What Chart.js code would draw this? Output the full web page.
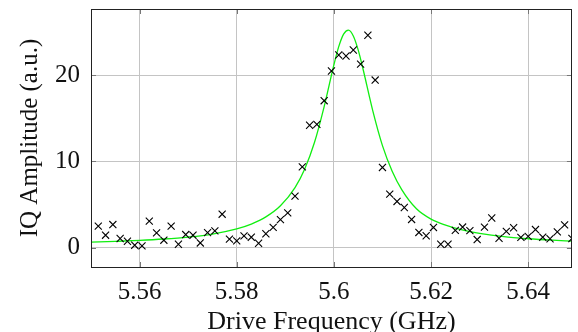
<!DOCTYPE html>
<html>
<head>
<meta charset="utf-8">
<script src="https://cdn.jsdelivr.net/npm/chart.js@4/dist/chart.umd.min.js"></script>
<style>
  html, body { margin: 0; padding: 0; background: #fff; }
  #wrap { width: 578px; height: 332px; }
</style>
</head>
<body>
<div id="wrap"><canvas id="resonance"></canvas></div>
<script>
// measured points (GHz, a.u.)
const freqs = [
    5.5515, 5.553, 5.5545, 5.556, 5.5575, 5.559, 5.5605, 5.562, 5.5635, 5.565,
    5.5665, 5.568, 5.5695, 5.571, 5.5725, 5.574, 5.5755, 5.577, 5.5785, 5.58,
    5.5815, 5.583, 5.5845, 5.586, 5.5875, 5.589, 5.5905, 5.592, 5.5935, 5.595,
    5.5965, 5.598, 5.5995, 5.601, 5.6025, 5.604, 5.6055, 5.607, 5.6085, 5.61,
    5.6115, 5.613, 5.6145, 5.616, 5.6175, 5.619, 5.6205, 5.622, 5.6235, 5.625,
    5.6265, 5.628, 5.6295, 5.631, 5.6325, 5.634, 5.6355, 5.637, 5.6385, 5.64,
    5.6415, 5.643, 5.6445, 5.646, 5.6475, 5.649
];
const amps = [
    2.48, 1.43, 2.67, 1.05, 0.73, 0.27, 0.19, 3.06, 1.70, 0.85,
    2.48, 0.38, 1.51, 1.43, 0.53, 1.74, 1.93, 3.87, 0.97, 0.77,
    1.35, 1.2, 0.5, 1.6, 2.35, 3.25, 4.03, 5.97, 9.37, 14.2,
    14.3, 17.05, 20.5, 22.36, 22.24, 22.94, 21.3, 24.65, 19.45, 9.3,
    6.2, 5.35, 4.65, 3.26, 1.75, 1.37, 2.33, 0.38, 0.38, 2.0,
    2.38, 1.97, 0.93, 2.37, 3.43, 1.08, 1.87, 2.3, 1.18, 1.3,
    2.09, 1.2, 1.02, 1.82, 2.63, 1.05
];

// fitted curve
const fitFreqs = [
    5.55, 5.555, 5.56, 5.565, 5.57, 5.575, 5.58, 5.583, 5.586, 5.589,
    5.592, 5.594, 5.596, 5.598, 5.6, 5.601, 5.602, 5.603, 5.604, 5.605,
    5.606, 5.608, 5.61, 5.612, 5.614, 5.617, 5.62, 5.623, 5.626, 5.63,
    5.635, 5.64, 5.645, 5.649
];
const fitAmps = [
    0.63, 0.72, 0.83, 0.99, 1.22, 1.57, 2.17, 2.73, 3.56, 4.85,
    6.96, 9.12, 12.19, 16.37, 21.21, 23.33, 24.79, 25.25, 24.57, 22.95,
    20.73, 15.9, 11.84, 8.87, 6.7, 4.5, 3.3, 2.6, 2.1, 1.65,
    1.26, 1.02, 0.85, 0.75
];

const xTicks = [5.56, 5.58, 5.6, 5.62, 5.64];
const yTicks = [0, 10, 20];

const serifFamily = '"Liberation Serif", "DejaVu Serif", serif';
const tickFont = { family: serifFamily, size: 25 };

// pgfplots style frame with inward tick marks
const framePlugin = {
    id: 'frame',
    afterDraw(chart) {
        const { ctx, chartArea: a, scales } = chart;
        ctx.save();
        ctx.strokeStyle = '#777';
        ctx.lineWidth = 1;
        ctx.beginPath();
        xTicks.forEach(v => {
            const px = Math.round(scales.x.getPixelForValue(v)) + 0.5;
            ctx.moveTo(px, a.top); ctx.lineTo(px, a.top + 5);
            ctx.moveTo(px, a.bottom); ctx.lineTo(px, a.bottom - 5);
        });
        yTicks.forEach(v => {
            const py = Math.round(scales.y.getPixelForValue(v)) + 0.5;
            ctx.moveTo(a.left, py); ctx.lineTo(a.left + 5, py);
            ctx.moveTo(a.right, py); ctx.lineTo(a.right - 5, py);
        });
        ctx.stroke();
        ctx.strokeStyle = '#222';
        ctx.strokeRect(Math.round(a.left) + 0.5, Math.round(a.top) + 0.5,
            Math.round(a.right - a.left) - 1, Math.round(a.bottom - a.top));
        ctx.restore();
    }
};

const ctx = document.getElementById('resonance').getContext('2d');

new Chart(ctx, {
    type: 'scatter',
    data: {
        datasets: [{
            label: 'data',
            data: freqs.map((f, i) => ({ x: f, y: amps[i] })),
            pointStyle: 'crossRot',
            pointRadius: 5,
            borderColor: '#000',
            borderWidth: 1.1
        }, {
            label: 'fit',
            data: fitFreqs.map((f, i) => ({ x: f, y: fitAmps[i] })),
            showLine: true,
            pointRadius: 0,
            borderColor: '#10ee10',
            borderWidth: 1.3,
            cubicInterpolationMode: 'monotone'
        }]
    },
    options: {
        responsive: true,
        maintainAspectRatio: false,
        animation: false,
        layout: { padding: { top: 9, right: 1, left: 0, bottom: 0 } },
        plugins: {
            legend: { display: false },
            tooltip: { enabled: false }
        },
        scales: {
            x: {
                type: 'linear',
                min: 5.55,
                max: 5.649,
                afterBuildTicks: s => { s.ticks = xTicks.map(v => ({ value: v })); },
                afterFit: s => { s.height = 65; s.paddingLeft = 0; s.paddingRight = 0; },
                ticks: {
                    color: '#111',
                    font: tickFont,
                    padding: 10,
                    maxRotation: 0,
                    callback: v => String(+v.toFixed(2))
                },
                grid: { color: '#c4c4c4', drawTicks: false },
                border: { display: false },
                title: {
                    display: true,
                    text: 'Drive Frequency (GHz)',
                    color: '#111',
                    font: { family: serifFamily, size: 26, lineHeight: 1 },
                    padding: { top: -3, bottom: -3 }
                }
            },
            y: {
                min: -2.26,
                max: 27.7,
                afterBuildTicks: s => { s.ticks = yTicks.map(v => ({ value: v })); },
                afterFit: s => { s.width = 91; s.paddingTop = 0; s.paddingBottom = 0; },
                ticks: { color: '#111', font: tickFont, padding: 11 },
                grid: { color: '#c4c4c4', drawTicks: false },
                border: { display: false },
                title: {
                    display: true,
                    text: 'IQ Amplitude (a.u.)',
                    color: '#111',
                    font: { family: serifFamily, size: 25, lineHeight: 1 },
                    padding: { top: 18, bottom: 0 }
                }
            }
        }
    },
    plugins: [framePlugin]
});
</script>
</body>
</html>
